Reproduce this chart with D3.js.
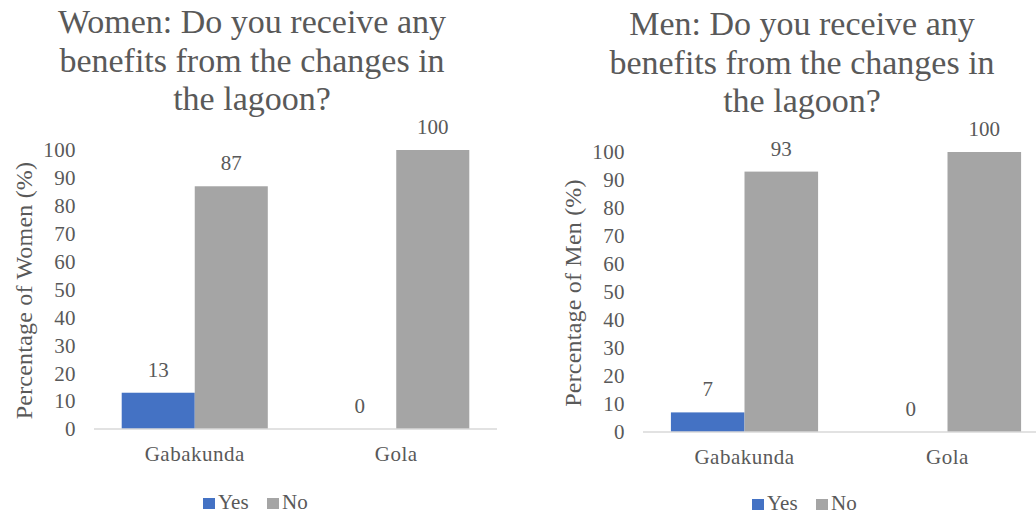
<!DOCTYPE html>
<html>
<head>
<meta charset="utf-8">
<script src="https://cdn.jsdelivr.net/npm/d3@7"></script>
<style>
  body { margin: 0; background: #fff; }
  svg text { font-family: "Liberation Serif", "Times New Roman", serif; fill: #595959; }
</style>
</head>
<body>
<svg id="chart" width="1036" height="514"></svg>
<script>
// datos
const categories = ["Gabakunda", "Gola"];
const seriesNames = ["Yes", "No"];
const womenYes = [13, 0];
const womenNo = [87, 100];
const menYes = [7, 0];
const menNo = [93, 100];
const yTicks = [0, 10, 20, 30, 40, 50, 60, 70, 80, 90, 100];
const colors = { Yes: "#4472c4", No: "#a5a5a5" };

const svg = d3.select("#chart");

function drawChart(opts) {
    const g = svg.append("g");
    const values = { Yes: opts.yes, No: opts.no };

    const x0 = d3.scaleBand()
        .domain(categories)
        .range([opts.left, opts.right])
        .paddingInner(0.275)
        .paddingOuter(0.1375);
    const x1 = d3.scaleBand()
        .domain(seriesNames)
        .range([0, x0.bandwidth()]);
    const y = d3.scaleLinear().domain([0, 100]).range([opts.bottom, opts.top]);

    // titulo
    g.append("text")
        .attr("text-anchor", "middle")
        .attr("font-size", "34px")
        .selectAll("tspan")
        .data(opts.title)
        .enter()
        .append("tspan")
        .attr("x", opts.titleX)
        .attr("y", (d, i) => opts.titleY + i * 38.5)
        .text(d => d);

    // ticks eje y
    g.selectAll(".tick")
        .data(yTicks)
        .enter()
        .append("text")
        .attr("x", opts.left - 18)
        .attr("y", d => y(d))
        .attr("dy", "0.35em")
        .attr("text-anchor", "end")
        .attr("font-size", "21px")
        .attr("letter-spacing", "0.4px")
        .text(d => d);

    // titulo eje y
    g.append("text")
        .attr("transform", `translate(${opts.left - 70},${(opts.top + opts.bottom) / 2 + 1}) rotate(-90)`)
        .attr("text-anchor", "middle")
        .attr("dy", "0.35em")
        .attr("font-size", "24px")
        .attr("letter-spacing", "0.2px")
        .text(opts.yTitle);

    // barras
    const groups = g.selectAll(".cat")
        .data(categories)
        .enter()
        .append("g")
        .attr("transform", d => `translate(${x0(d)},0)`);

    groups.selectAll("rect")
        .data((c, ci) => seriesNames.map(s => ({ s, v: values[s][ci] })))
        .enter()
        .append("rect")
        .attr("x", d => x1(d.s))
        .attr("y", d => y(d.v))
        .attr("width", x1.bandwidth())
        .attr("height", d => y(0) - y(d.v))
        .attr("fill", d => colors[d.s]);

    groups.selectAll(".lbl")
        .data((c, ci) => seriesNames.map(s => ({ s, v: values[s][ci] })))
        .enter()
        .append("text")
        .attr("x", d => x1(d.s) + x1.bandwidth() / 2)
        .attr("y", d => y(d.v) - 16)
        .attr("text-anchor", "middle")
        .attr("font-size", "21px")
        .text(d => d.v);

    // linea base
    g.append("line")
        .attr("x1", opts.left).attr("x2", opts.right)
        .attr("y1", y(0)).attr("y2", y(0))
        .attr("stroke", "#d9d9d9")
        .attr("stroke-width", 1.5);

    // categorias
    g.selectAll(".catlbl")
        .data(categories)
        .enter()
        .append("text")
        .attr("x", d => x0(d) + x0.bandwidth() / 2)
        .attr("y", y(0) + 32)
        .attr("text-anchor", "middle")
        .attr("font-size", "21px")
        .attr("letter-spacing", "0.5px")
        .text(d => d);

    // leyenda
    const lg = g.append("g").attr("transform", `translate(${opts.legendX},${opts.legendY})`);
    const items = [{ s: "Yes", dx: 0 }, { s: "No", dx: 64 }];
    items.forEach(it => {
        lg.append("rect")
            .attr("x", it.dx).attr("y", -11)
            .attr("width", 12).attr("height", 11)
            .attr("fill", colors[it.s]);
        lg.append("text")
            .attr("x", it.dx + 15).attr("y", 0)
            .attr("font-size", "21px")
            .text(it.s);
    });
}

drawChart({
    title: ["Women: Do you receive any", "benefits from the changes in", "the lagoon?"],
    titleX: 252, titleY: 33,
    yTitle: "Percentage of Women (%)",
    yes: womenYes, no: womenNo,
    left: 94, right: 497, top: 150, bottom: 429,
    legendX: 203, legendY: 509
});

drawChart({
    title: ["Men: Do you receive any", "benefits from the changes in", "the lagoon?"],
    titleX: 802, titleY: 35,
    yTitle: "Percentage of Men (%)",
    yes: menYes, no: menNo,
    left: 643, right: 1049, top: 152, bottom: 432,
    legendX: 752, legendY: 510
});
</script>
</body>
</html>
